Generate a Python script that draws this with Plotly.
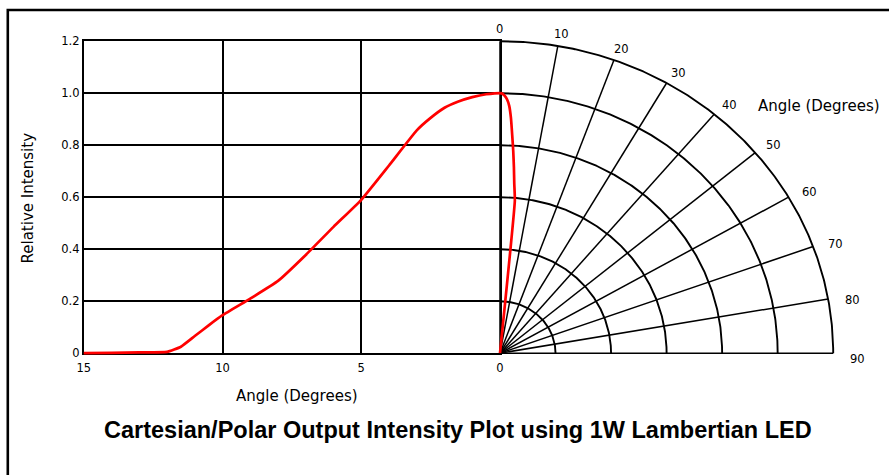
import numpy as np
import plotly.graph_objects as go

# ---------------- data ----------------
angle_deg = [15, 14, 13, 12, 11.5, 11, 10.5, 10, 9, 8, 7, 6, 5, 4, 3, 2.5, 2, 1.5, 1, 0.5, 0]
rel_intensity = [0.0, 0.001, 0.003, 0.005, 0.025, 0.066, 0.107, 0.146, 0.21, 0.278,
                 0.378, 0.486, 0.59, 0.722, 0.857, 0.905, 0.944, 0.968, 0.985, 0.996, 1.0]

polar_angle = [0, 0.5, 1.0, 1.5, 2.0, 2.5, 3.0, 3.5, 4.0, 4.5, 5.2, 5.2]
polar_r = [1.0, 0.998, 0.99, 0.976, 0.952, 0.905, 0.84, 0.78, 0.718, 0.655, 0.59, 0.0]

x_tick_vals = [15, 10, 5, 0]
x_tick_text = ["15", "10", "5", "0"]
y_tick_vals = [0, 0.2, 0.4, 0.6, 0.8, 1.0, 1.2]
y_tick_text = ["0", "0.2", "0.4", "0.6", "0.8", "1.0", "1.2"]

ring_radii = [0.2, 0.4, 0.6, 0.8, 1.0, 1.2]
spoke_angles = [0, 10, 20, 30, 40, 50, 60, 70, 80, 90]
spoke_labels = ["0", "10", "20", "30", "40", "50", "60", "70", "80", "90"]

title_text = "Cartesian/Polar Output Intensity Plot using 1W Lambertian LED"
x_title = "Angle (Degrees)"
y_title = "Relative Intensity"
polar_title = "Angle (Degrees)"

# ---------------- layout geometry (pixels) ----------------
W, H = 889, 475


def px(x):
    return x / W


def py(y):
    return 1 - y / H


X15, X0 = 83.8, 500.0          # cartesian x pixels for 15 and 0
Y0, Y12 = 353.2, 41.2          # cartesian y pixels for 0 and 1.2
ppu_x_deg = (X0 - X15) / 15.0  # px per degree
ppu_y = (Y0 - Y12) / 1.2       # px per intensity unit (vertical)
ppu_px = (833.2 - X0) / 1.2    # px per intensity unit (horizontal, polar)

pad = 0.05
y2_range = [-pad, 1.3]
x2_range = [-pad, 1.3]
x3_range = [15.5, -0.5]

BLACK = "#000000"
RED = "#ff0000"
CLEAR = "rgba(0,0,0,0)"
DIGIT_FONT = dict(family="DejaVu Sans", size=11.5, color=BLACK)
LABEL_FONT = dict(family="DejaVu Sans", size=15, color=BLACK)

fig = go.Figure()

# empty trace so that the cartesian grid subplot (x, y) is drawn
fig.add_trace(go.Scatter(x=[], y=[], mode="lines", xaxis="x", yaxis="y",
                         hoverinfo="skip", showlegend=False))

# polar grid (rings and spokes) computed from radii / angles
theta_fine = np.radians(np.linspace(0, 90, 271))
rx, ry = [], []
for r in ring_radii:
    rx += list(r * np.sin(theta_fine)) + [None]
    ry += list(r * np.cos(theta_fine)) + [None]
sx, sy = [], []
for a in spoke_angles:
    t = np.radians(a)
    sx += [0, ring_radii[-1] * np.sin(t), None]
    sy += [0, ring_radii[-1] * np.cos(t), None]

fig.add_trace(go.Scatter(x=sx, y=sy, mode="lines", xaxis="x2", yaxis="y2",
                         line=dict(color=BLACK, width=1.5), hoverinfo="skip",
                         showlegend=False))
fig.add_trace(go.Scatter(x=rx, y=ry, mode="lines", xaxis="x2", yaxis="y2",
                         line=dict(color=BLACK, width=1.9), hoverinfo="skip",
                         showlegend=False))

# polar red curve
pt = np.radians(polar_angle)
fig.add_trace(go.Scatter(x=np.array(polar_r) * np.sin(pt), y=np.array(polar_r) * np.cos(pt),
                         mode="lines", xaxis="x2", yaxis="y2",
                         line=dict(color=RED, width=2.7, shape="spline", smoothing=0.4),
                         showlegend=False))

# cartesian red curve
fig.add_trace(go.Scatter(x=angle_deg, y=rel_intensity, mode="lines", xaxis="x3", yaxis="y2",
                         line=dict(color=RED, width=2.7, shape="spline", smoothing=0.4),
                         showlegend=False))

axis_common = dict(showgrid=True, gridcolor=BLACK, gridwidth=2, showline=True,
                   linecolor=BLACK, linewidth=2, mirror=True, zeroline=False,
                   ticks="", tickfont=DIGIT_FONT, automargin=False, fixedrange=True)

fig.update_layout(
    width=W, height=H,
    margin=dict(l=0, r=0, t=0, b=0),
    paper_bgcolor="white", plot_bgcolor=CLEAR,
    showlegend=False,
    xaxis=dict(domain=[px(X15), px(X0)], range=[15, 0], anchor="y",
               tickmode="array", tickvals=x_tick_vals, ticktext=x_tick_text,
               ticklabelstandoff=3, **axis_common),
    yaxis=dict(domain=[py(Y0), py(Y12)], range=[0, 1.2], anchor="x",
               tickmode="array", tickvals=y_tick_vals, ticktext=y_tick_text,
               ticklabelstandoff=0, **axis_common),
    xaxis2=dict(domain=[px(X0 + x2_range[0] * ppu_px), px(X0 + x2_range[1] * ppu_px)],
                range=x2_range, anchor="y2", visible=False, fixedrange=True),
    yaxis2=dict(domain=[py(Y0 - y2_range[0] * ppu_y), py(Y0 - y2_range[1] * ppu_y)],
                range=y2_range, anchor="x2", visible=False, fixedrange=True),
    xaxis3=dict(domain=[px(X0 - x3_range[0] * ppu_x_deg), px(X0 - x3_range[1] * ppu_x_deg)],
                range=x3_range, anchor="y2", visible=False, fixedrange=True),
)

annotations = []
for a, lab in zip(spoke_angles, spoke_labels):
    t = np.radians(a)
    annotations.append(dict(
        x=1.25 * np.sin(t), y=1.25 * np.cos(t), xref="x2", yref="y2",
        text=lab, showarrow=False, font=DIGIT_FONT,
        xanchor="center", yanchor="middle",
        xshift=11 * np.sin(t) - 0.5,
        yshift=-1 - 4.5 * max(0.0, (a - 55) / 35.0) ** 2,
    ))

annotations += [
    dict(x=px(297), y=py(396), xref="paper", yref="paper", text=x_title,
         showarrow=False, font=LABEL_FONT, xanchor="center", yanchor="middle"),
    dict(x=px(27.5), y=py(198), xref="paper", yref="paper", text=y_title,
         showarrow=False, font=LABEL_FONT, textangle=-90,
         xanchor="center", yanchor="middle"),
    dict(x=px(819), y=py(106), xref="paper", yref="paper", text=polar_title,
         showarrow=False, font=LABEL_FONT, xanchor="center", yanchor="middle"),
    dict(x=px(457.5), y=py(430), xref="paper", yref="paper", text="<b>" + title_text + "</b>",
         showarrow=False, font=dict(family="Liberation Sans, Arial", size=23.5, color=BLACK),
         xanchor="center", yanchor="middle"),
]
fig.update_layout(annotations=annotations)

# outer frame
fig.add_shape(type="rect", xref="paper", yref="paper",
              x0=px(7.8), x1=1.1, y0=-0.1, y1=py(10),
              line=dict(color=BLACK, width=2.6), fillcolor=CLEAR, layer="above")

fig.write_html("out.html", config={"displayModeBar": False, "staticPlot": True},
               post_script="document.body.style.margin='0';document.body.style.overflow='hidden';")
